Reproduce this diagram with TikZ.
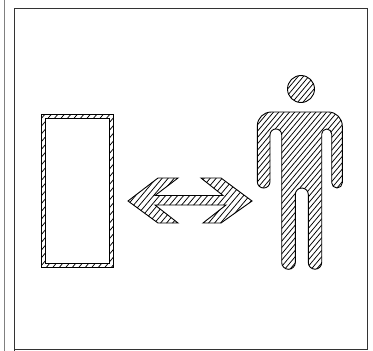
\documentclass[tikz,border=0pt]{standalone}
\tikzset{
  outline/.style={draw=black,line width=0.9pt},
  hatchline/.style={draw=black,line width=0.75pt},
}
% hatch: \hatchfill{path}{spacing}
\newcommand{\hatchfill}[2]{%
  \begin{scope}
    \clip #1;
    \foreach \i in {-100,...,120} {
      \draw[hatchline] ({\i*#2},400) -- ++(340,-405);
    }
  \end{scope}
  \draw[outline] #1;
}
\begin{document}
\begin{tikzpicture}[x=1pt,y=-1pt]
\useasboundingbox (0,0) rectangle (373,351);
\fill[white] (0,0) rectangle (373,351);
% outer lines
\draw[draw=black!50,line width=1pt] (4.5,0) -- (4.5,351);
\draw[draw=black!80,line width=0.9pt] (14.5,351) -- (14.5,8) -- (367,8) -- (367,349) -- (14.5,349);
% door
\hatchfill{(41,114) rectangle (113,267)}{6.5}
\fill[white] (45.5,118.5) rectangle (109,263);
\draw[outline] (45.5,118.5) rectangle (109,263);
% arrow
\hatchfill{(128,201) -- (158,178) -- (178,178) -- (155,195.5) -- (223,195.5) -- (201,178) -- (221,178) -- (252,201) -- (221,223) -- (203,223) -- (226,205) -- (155,205) -- (178,223) -- (158,223) -- cycle}{6}
% head
\hatchfill{(301,89) circle[radius=13.5]}{5.3}
% body
\hatchfill{(257.3,126) arc[start angle=180,end angle=270,radius=14] -- (328.3,112) arc[start angle=270,end angle=360,radius=14] -- (342.3,182.7) arc[start angle=0,end angle=180,radius=5.3] -- (331.7,134) arc[start angle=0,end angle=-180,radius=5] -- (321.7,262.5) arc[start angle=0,end angle=180,radius=6.7] -- (308.3,194.5) arc[start angle=0,end angle=-180,radius=6.5] -- (295.3,262.5) arc[start angle=0,end angle=180,radius=6.8] -- (281.7,134.8) arc[start angle=0,end angle=-180,radius=5.85] -- (270,181.7) arc[start angle=0,end angle=180,radius=6.35] -- cycle}{5.3}
\end{tikzpicture}
\end{document}
